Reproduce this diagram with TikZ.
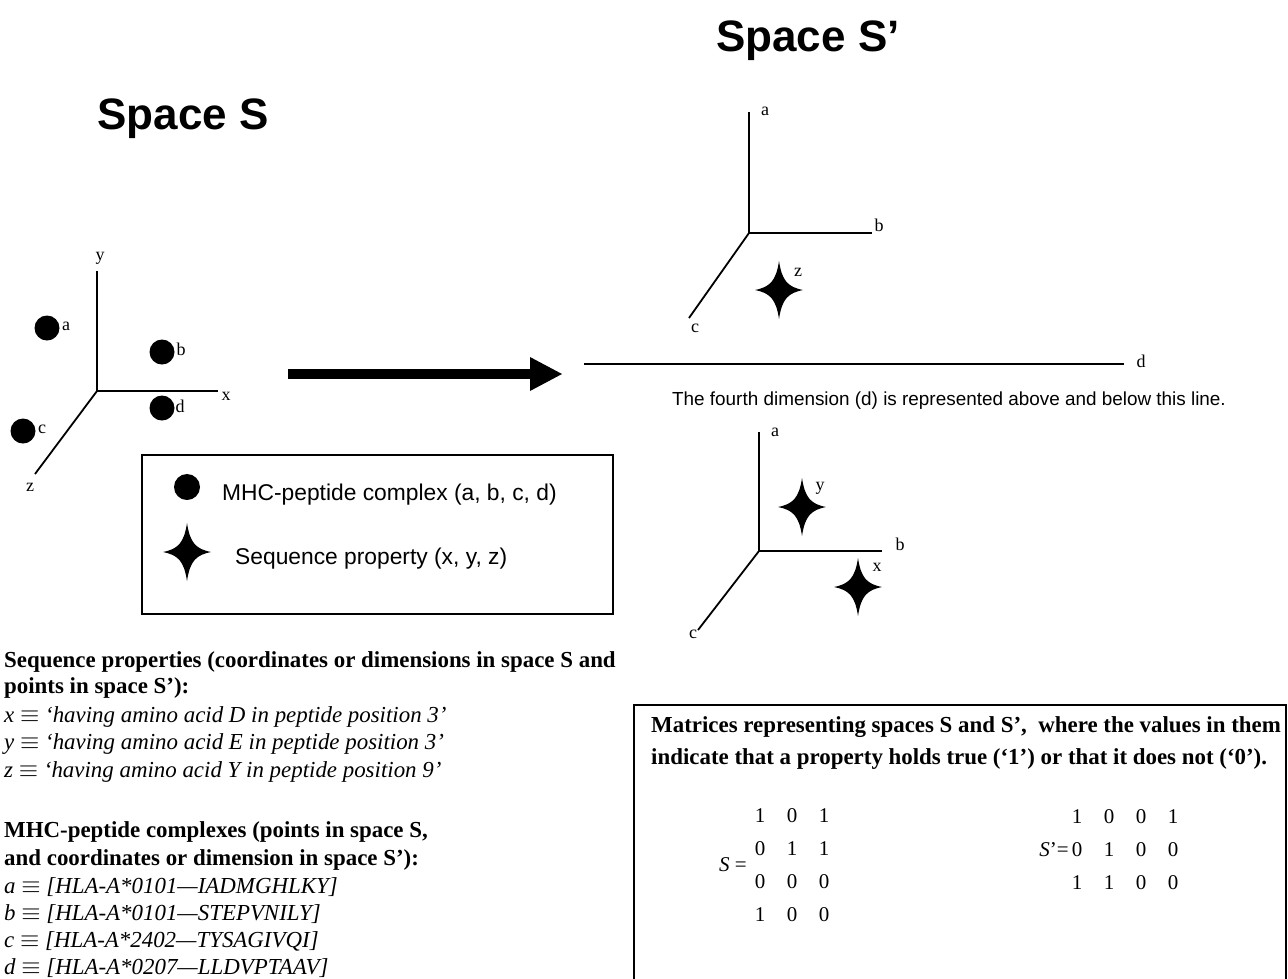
\documentclass[tikz,border=0pt]{standalone}
\usepackage{fontspec}
\setmainfont{Liberation Serif}
\newfontfamily\arialfont{Liberation Sans}
\begin{document}
\begin{tikzpicture}[x=1pt,y=-1pt,
  axis/.style={line width=1.8pt},
  albl/.style={font=\fontsize{18}{18}\selectfont, inner sep=0pt},
  titletext/.style={font=\arialfont\bfseries\fontsize{44}{44}\selectfont, inner sep=0pt, anchor=base},
  legtext/.style={font=\arialfont\fontsize{22.8}{22.8}\selectfont, inner sep=0pt, anchor=base west},
  para/.style={inner sep=0pt, anchor=base west},
  boldpara/.style={para, font=\bfseries\fontsize{22.9}{22.9}\selectfont},
  itpara/.style={para, font=\itshape\fontsize{22.9}{22.9}\selectfont},
  digit/.style={font=\fontsize{21}{21}\selectfont, inner sep=0pt, anchor=base},
  dot/.style={circle, fill=black, minimum size=25pt, inner sep=0pt},
  pics/sparkle/.style={code={
    \fill (24,0) .. controls (9,3) and (3,9) .. (0,29)
          .. controls (-3,9) and (-9,3) .. (-24,0)
          .. controls (-9,-3) and (-3,-9) .. (0,-29)
          .. controls (3,-9) and (9,-3) .. (24,0) -- cycle;}}
]
\useasboundingbox (0,0) rectangle (1288,978);

% ---- titles
\node[titletext] (tS)  at (183,129) {Space S};
\node[titletext] (tSp) at (808,51)  {Space S’};

% ---- space S: three axes and four complexes
\coordinate (O1) at (97,391);
\coordinate (Y1) at (97,271);
\coordinate (X1) at (218,391);
\coordinate (Z1) at (35,474);
\draw[axis] (Y1) -- (O1) -- (X1);
\draw[axis] (O1) -- (Z1);
\node[albl] (ly1) at (100,258) {y};
\node[albl] (lx1) at (226,396) {x};
\node[albl] (lz1) at (30,487) {z};

\node[dot] (pa) at (47,328) {};
\node[dot] (pb) at (162,352) {};
\node[dot] (pc) at (23,431) {};
\node[dot] (pd) at (162,408) {};
\node[albl] (la) at (66,326) {a};
\node[albl] (lb) at (181,349) {b};
\node[albl] (lc) at (42,429) {c};
\node[albl] (ld) at (180,406) {d};

% ---- transformation arrow
\coordinate (arrS) at (288,374);
\coordinate (arrB) at (530,374);
\coordinate (arrT) at (562,374);
\draw[line width=10pt] (arrS) -- (arrB);
\fill ([yshift=-17pt]arrB) -- (arrT) -- ([yshift=17pt]arrB) -- cycle;

% ---- legend
\node[draw, line width=1.2pt, minimum width=471pt, minimum height=159pt, inner sep=0pt]
  (legend) at (377.5,534.5) {};
\node[circle, fill=black, minimum size=26pt, inner sep=0pt] (ldot) at (187,487) {};
\pic at (187,552) {sparkle};
\node[legtext] (lt1) at (222,500) {MHC-peptide complex (a, b, c, d)};
\node[legtext] (lt2) at (235,564) {Sequence property (x, y, z)};

% ---- space S', upper half
\coordinate (O2) at (749,233);
\coordinate (A2) at (749,112);
\coordinate (B2) at (872,233);
\coordinate (C2) at (689,318);
\draw[axis] (A2) -- (O2) -- (B2);
\draw[axis] (O2) -- (C2);
\node[albl] (la2) at (765,111) {a};
\node[albl] (lb2) at (879,225) {b};
\node[albl] (lc2) at (695,328) {c};
\pic at (779,290) {sparkle};
\node[albl] (lz2) at (798,272) {z};

% ---- fourth dimension divider
\coordinate (dL) at (584,364);
\coordinate (dR) at (1124,364);
\draw[line width=1.6pt] (dL) -- (dR);
\node[albl] (ldd) at (1141,361) {d};
\node[font=\arialfont\fontsize{18.9}{18.9}\selectfont, inner sep=0pt, anchor=base]
  (note) at (949,405) {The fourth dimension (d) is represented above and below this line.};

% ---- space S', lower half
\coordinate (O3) at (759,551);
\coordinate (A3) at (759,432);
\coordinate (B3) at (882,551);
\coordinate (C3) at (698,630);
\draw[axis] (A3) -- (O3) -- (B3);
\draw[axis] (O3) -- (C3);
\node[albl] (la3) at (775,432) {a};
\node[albl] (lb3) at (900,544) {b};
\node[albl] (lc3) at (693,634) {c};
\pic at (802,507) {sparkle};
\node[albl] (ly3) at (820,488) {y};
\pic at (858,587) {sparkle};
\node[albl] (lx3) at (877,567) {x};

% ---- definitions, lower left
\node[boldpara] (h1) at (4,667)
  {Sequence properties (coordinates or dimensions in space S and};
\node[boldpara] (h2) at (4,693) {points in space S’):};
\node[itpara] (px) at (4,722) {x $\equiv$ ‘having amino acid D in peptide position 3’};
\node[itpara] (py) at (4,749) {y $\equiv$ ‘having amino acid E in peptide position 3’};
\node[itpara] (pz) at (4,777) {z $\equiv$ ‘having amino acid Y in peptide position 9’};

\node[boldpara] (h3) at (4,837) {MHC-peptide complexes (points in space S,};
\node[boldpara] (h4) at (4,865) {and coordinates or dimension in space S’):};
\node[itpara] (ca) at (4,893) {a $\equiv$ [HLA-A*0101—IADMGHLKY]};
\node[itpara] (cb) at (4,920) {b $\equiv$ [HLA-A*0101—STEPVNILY]};
\node[itpara] (cc) at (4,947) {c $\equiv$ [HLA-A*2402—TYSAGIVQI]};
\node[itpara] (cd) at (4,974) {d $\equiv$ [HLA-A*0207—LLDVPTAAV]};

% ---- matrices box
\coordinate (mb1) at (634,980);
\coordinate (mb2) at (634,705);
\coordinate (mb3) at (1286,705);
\coordinate (mb4) at (1286,980);
\draw[line width=1.4pt] (mb1) -- (mb2) -- (mb3) -- (mb4);
\node[boldpara] (m1) at (651,732)
  {Matrices representing spaces S and S’,\ \ where the values in them};
\node[boldpara] (m2) at (651,764)
  {indicate that a property holds true (‘1’) or that it does not (‘0’).};

% matrix S (4 complexes x 3 properties)
\node[font=\fontsize{21}{21}\selectfont, inner sep=0pt, anchor=base] (Slab) at (733,871) {\textit{S} =};
\foreach \r/\row in {1/{1,0,1},2/{0,1,1},3/{0,0,0},4/{1,0,0}}{
  \foreach \v [count=\c] in \row {
    \node[digit] (S-\r-\c) at ({728+32*\c},{789+33*\r}) {\v};
  }
}
% matrix S' (3 properties x 4 complexes)
\node[font=\fontsize{21}{21}\selectfont, inner sep=0pt, anchor=base east] (Splab) at (1069,856) {\textit{S}'=};
\foreach \r/\row in {1/{1,0,0,1},2/{0,1,0,0},3/{1,1,0,0}}{
  \foreach \v [count=\c] in \row {
    \node[digit] (Sp-\r-\c) at ({1045+32*\c},{790+33*\r}) {\v};
  }
}
\end{tikzpicture}
\end{document}
